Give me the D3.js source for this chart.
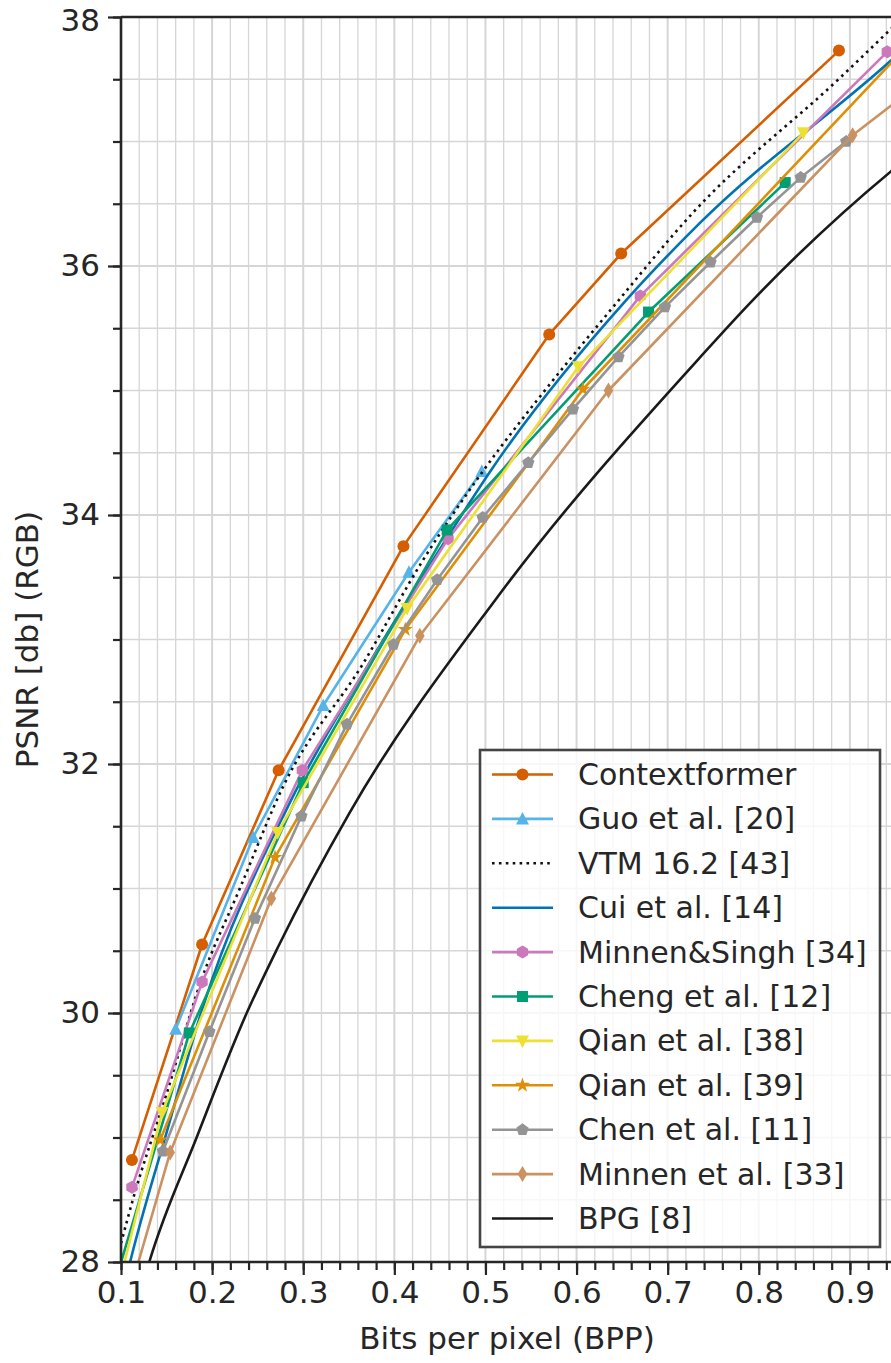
<!DOCTYPE html>
<html>
<head>
  <meta charset="utf-8">
  <title>PSNR vs BPP</title>
  <style>
  body { margin: 0; background: #fff; }
  svg text { font-family: "DejaVu Sans", sans-serif; fill: #262626; }
  .axis path, .axis line { stroke: #262626; }
  </style>
</head>
<body>
  <svg width="891" height="1363"></svg>
  <script src="https://d3js.org/d3.v7.min.js"></script>
  <script>
  // legend order / names
  var seriesNames = ["Contextformer", "Guo et al. [20]", "VTM 16.2 [43]", "Cui et al. [14]",
    "Minnen&Singh [34]", "Cheng et al. [12]", "Qian et al. [38]", "Qian et al. [39]",
    "Chen et al. [11]", "Minnen et al. [33]", "BPG [8]"];

  // values (bpp, psnr)
  var contextformerBpp  = [0.112, 0.189, 0.273, 0.410, 0.570, 0.649, 0.888];
  var contextformerPsnr = [28.82, 30.55, 31.95, 33.75, 35.45, 36.10, 37.73];

  var guoBpp  = [0.160, 0.245, 0.322, 0.416, 0.496];
  var guoPsnr = [29.87, 31.41, 32.47, 33.54, 34.35];

  var vtmBpp  = [0.100, 0.113, 0.150, 0.187, 0.231, 0.278, 0.366, 0.430, 0.500, 0.563, 0.640, 0.728, 0.889, 0.960];
  var vtmPsnr = [28.15, 28.50, 29.35, 30.24, 31.01, 31.82, 32.81, 33.62, 34.38, 34.98, 35.67, 36.43, 37.51, 38.01];

  var cuiBpp  = [0.105, 0.110, 0.150, 0.190, 0.286, 0.370, 0.453, 0.508, 0.655, 0.736, 0.945, 0.960];
  var cuiPsnr = [27.85, 28.00, 29.04, 30.05, 31.70, 32.78, 33.76, 34.38, 35.73, 36.35, 37.65, 37.75];

  var minnenSinghBpp  = [0.112, 0.189, 0.299, 0.459, 0.670, 0.941];
  var minnenSinghPsnr = [28.60, 30.25, 31.95, 33.81, 35.76, 37.72];

  var chengBpp  = [0.092, 0.175, 0.300, 0.458, 0.679, 0.829];
  var chengPsnr = [27.80, 29.84, 31.85, 33.88, 35.63, 36.67];

  var qian38Bpp  = [0.097, 0.145, 0.272, 0.414, 0.602, 0.849];
  var qian38Psnr = [27.80, 29.20, 31.45, 33.25, 35.19, 37.07];

  var qian39Bpp  = [0.143, 0.269, 0.412, 0.607, 0.980];
  var qian39Psnr = [28.98, 31.25, 33.08, 35.01, 37.90];

  var chenBpp  = [0.146, 0.197, 0.247, 0.298, 0.348, 0.399, 0.447, 0.497, 0.547, 0.596, 0.646, 0.697, 0.747, 0.798, 0.846, 0.896];
  var chenPsnr = [28.89, 29.85, 30.76, 31.58, 32.32, 32.96, 33.48, 33.98, 34.42, 34.85, 35.27, 35.67, 36.03, 36.39, 36.71, 37.00];

  var minnen33Bpp  = [0.112, 0.154, 0.265, 0.428, 0.635, 0.903, 1.000];
  var minnen33Psnr = [27.82, 28.88, 30.92, 33.03, 35.00, 37.05, 37.60];

  var bpgBpp  = [0.125, 0.131, 0.183, 0.238, 0.271, 0.351, 0.511, 0.736, 0.794, 0.945, 0.960];
  var bpgPsnr = [27.85, 28.00, 29.00, 30.00, 30.51, 31.61, 33.32, 35.27, 35.73, 36.76, 36.85];

  var xMajorTicks = [0.1, 0.2, 0.3, 0.4, 0.5, 0.6, 0.7, 0.8, 0.9];
  var yMajorTicks = [28, 30, 32, 34, 36, 38];

  function zip(xs, ys) { return xs.map(function(x, i) { return {x: x, y: ys[i]}; }); }

  var series = [
    {name: seriesNames[0],  pts: zip(contextformerBpp, contextformerPsnr), color: "#d55e00", marker: "circle"},
    {name: seriesNames[1],  pts: zip(guoBpp, guoPsnr),                     color: "#56b4e9", marker: "triUp"},
    {name: seriesNames[2],  pts: zip(vtmBpp, vtmPsnr),                     color: "#111111", marker: null, dotted: true, smooth: true},
    {name: seriesNames[3],  pts: zip(cuiBpp, cuiPsnr),                     color: "#0173b2", marker: null, smooth: true},
    {name: seriesNames[4],  pts: zip(minnenSinghBpp, minnenSinghPsnr),     color: "#cc78bc", marker: "hexagon"},
    {name: seriesNames[5],  pts: zip(chengBpp, chengPsnr),                 color: "#029e73", marker: "square"},
    {name: seriesNames[6],  pts: zip(qian38Bpp, qian38Psnr),               color: "#ece133", marker: "triDown"},
    {name: seriesNames[7],  pts: zip(qian39Bpp, qian39Psnr),               color: "#de8f05", marker: "star"},
    {name: seriesNames[8],  pts: zip(chenBpp, chenPsnr),                   color: "#949494", marker: "pentagon"},
    {name: seriesNames[9],  pts: zip(minnen33Bpp, minnen33Psnr),           color: "#ca9161", marker: "thinDiamond"},
    {name: seriesNames[10], pts: zip(bpgBpp, bpgPsnr),                     color: "#1a1a1a", marker: null, smooth: true}
  ];

  var svg = d3.select("svg"),
      margin = {top: 17, left: 121},
      width = 820,    // runs past the right edge of the page like the original
      height = 1245,
      g = svg.append("g").attr("transform", "translate(" + margin.left + "," + margin.top + ")");

  var x = d3.scaleLinear().domain([0.1, 1.0]).range([0, width]);
  var y = d3.scaleLinear().domain([28, 38]).range([height, 0]);

  var xMinor = d3.range(0.1, 1.0001, 0.02).map(function(d) { return +d.toFixed(2); });
  var yMinor = d3.range(28, 38.001, 0.5);

  // grid
  var grid = g.append("g");
  grid.selectAll(".gx").data(xMinor).enter().append("line")
    .attr("x1", function(d) { return x(d); }).attr("x2", function(d) { return x(d); })
    .attr("y1", 0).attr("y2", height)
    .attr("stroke", "#d6d6d6")
    .attr("stroke-width", function(d) { return Math.abs(d * 10 - Math.round(d * 10)) < 1e-6 ? 2 : 1.3; });
  grid.selectAll(".gy").data(yMinor).enter().append("line")
    .attr("y1", function(d) { return y(d); }).attr("y2", function(d) { return y(d); })
    .attr("x1", 0).attr("x2", width)
    .attr("stroke", "#d6d6d6")
    .attr("stroke-width", function(d) { return d % 2 === 0 ? 2 : 1.3; });

  // clip for the curves
  g.append("clipPath").attr("id", "plotclip")
    .append("rect").attr("x", 0).attr("y", 0).attr("width", width).attr("height", height);

  var lineLinear = d3.line().x(function(d) { return x(d.x); }).y(function(d) { return y(d.y); });
  var lineSmooth = d3.line().curve(d3.curveMonotoneX).x(function(d) { return x(d.x); }).y(function(d) { return y(d.y); });

  function poly(pts) { return "M" + pts.map(function(p) { return p[0].toFixed(2) + "," + p[1].toFixed(2); }).join("L") + "Z"; }
  function regular(n, r, rot) {
    var pts = [];
    for (var i = 0; i < n; i++) {
      var a = rot + i * 2 * Math.PI / n;
      pts.push([r * Math.sin(a), -r * Math.cos(a)]);
    }
    return poly(pts);
  }
  function markerPath(type) {
    switch (type) {
      case "circle": return d3.symbol(d3.symbolCircle, Math.PI * 6 * 6)();
      case "triUp": return poly([[0, -7], [6.5, 5.5], [-6.5, 5.5]]);
      case "triDown": return poly([[0, 7], [6.5, -5.5], [-6.5, -5.5]]);
      case "square": return poly([[-5.5, -5.5], [5.5, -5.5], [5.5, 5.5], [-5.5, 5.5]]);
      case "star": return d3.symbol(d3.symbolStar, 70)();
      case "pentagon": return regular(5, 6.5, 0);
      case "hexagon": return regular(6, 6.5, 0);
      case "thinDiamond": return poly([[0, -8], [4.8, 0], [0, 8], [-4.8, 0]]);
    }
    return null;
  }

  var plot = g.append("g").attr("clip-path", "url(#plotclip)");
  series.forEach(function(s) {
    plot.append("path")
      .datum(s.pts)
      .attr("fill", "none")
      .attr("stroke", s.color)
      .attr("stroke-width", 2.6)
      .attr("stroke-linejoin", "round")
      .attr("stroke-dasharray", s.dotted ? "2.6,4.3" : null)
      .attr("d", s.smooth ? lineSmooth : lineLinear);
    if (s.marker) {
      plot.selectAll(null).data(s.pts).enter().append("path")
        .attr("transform", function(d) { return "translate(" + x(d.x) + "," + y(d.y) + ")"; })
        .attr("d", markerPath(s.marker))
        .attr("fill", s.color);
    }
  });

  // axes
  g.append("g").attr("class", "axis").attr("transform", "translate(0," + height + ")")
    .call(d3.axisBottom(x).tickValues(xMajorTicks).tickFormat(d3.format(".1f")).tickSize(13).tickPadding(6));
  g.append("g").attr("class", "axis").attr("transform", "translate(0," + height + ")")
    .call(d3.axisBottom(x).tickValues(xMinor).tickFormat("").tickSize(8));
  g.append("g").attr("class", "axis")
    .call(d3.axisLeft(y).tickValues(yMajorTicks).tickSize(13).tickPadding(8));
  g.append("g").attr("class", "axis")
    .call(d3.axisLeft(y).tickValues(yMinor).tickFormat("").tickSize(8));
  g.selectAll(".axis .tick line").attr("stroke-width", 2.2);
  g.selectAll(".axis .domain").remove();
  g.selectAll(".axis text").style("font-size", "31px").attr("fill", "#262626");
  // keep the top label inside the page
  g.selectAll(".axis .tick text").filter(function(d) { return d === 38; }).attr("dy", "0.42em");

  // spines
  g.append("line").attr("x1", 0).attr("x2", width).attr("y1", 0).attr("y2", 0).attr("stroke", "#262626").attr("stroke-width", 2.6);
  g.append("line").attr("x1", 0).attr("x2", width).attr("y1", height).attr("y2", height).attr("stroke", "#262626").attr("stroke-width", 2.6);
  g.append("line").attr("x1", 0).attr("x2", 0).attr("y1", 0).attr("y2", height).attr("stroke", "#262626").attr("stroke-width", 2.6);

  // axis labels
  svg.append("text")
    .attr("x", 507).attr("y", 1349)
    .attr("text-anchor", "middle")
    .style("font-size", "31px")
    .text("Bits per pixel (BPP)");
  svg.append("text")
    .attr("transform", "translate(38," + (margin.top + height / 2) + ") rotate(-90)")
    .attr("text-anchor", "middle")
    .style("font-size", "31px")
    .text("PSNR [db] (RGB)");

  // legend
  var legend = svg.append("g").attr("transform", "translate(480,750)");
  legend.append("rect")
    .attr("width", 400).attr("height", 497)
    .attr("fill", "#fff").attr("fill-opacity", 0.8)
    .attr("stroke", "#444").attr("stroke-width", 2.6);
  var rows = legend.selectAll(".row").data(series).enter().append("g")
    .attr("transform", function(d, i) { return "translate(0," + (24.5 + i * 44.4) + ")"; });
  rows.append("line")
    .attr("x1", 12).attr("x2", 73).attr("y1", 0).attr("y2", 0)
    .attr("stroke", function(d) { return d.color; })
    .attr("stroke-width", 2.6)
    .attr("stroke-dasharray", function(d) { return d.dotted ? "2.6,4.3" : null; });
  rows.filter(function(d) { return d.marker; }).append("path")
    .attr("transform", "translate(42.5,0)")
    .attr("d", function(d) { return markerPath(d.marker); })
    .attr("fill", function(d) { return d.color; });
  rows.append("text")
    .attr("x", 98).attr("dy", "0.35em")
    .style("font-size", "30px")
    .text(function(d) { return d.name; });
  </script>
</body>
</html>
